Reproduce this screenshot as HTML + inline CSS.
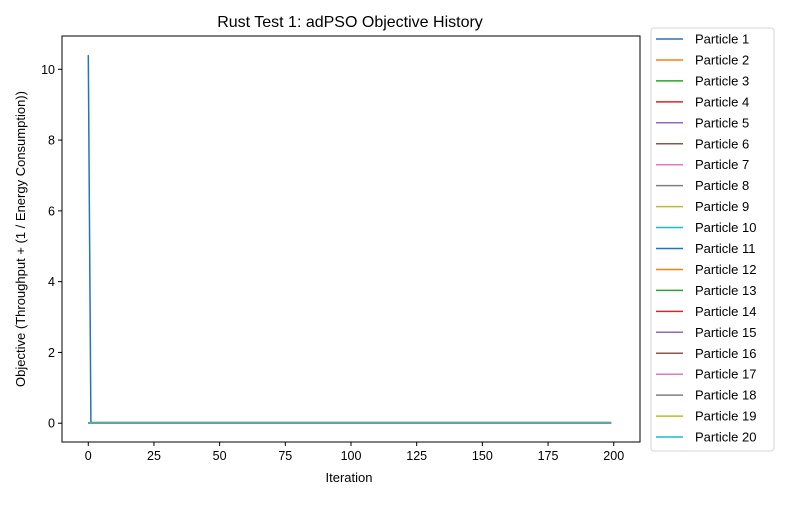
<!DOCTYPE html>
<html><head><meta charset="utf-8"><style>
body{margin:0;background:#fff;}
svg text{font-family:"Liberation Sans","DejaVu Sans",sans-serif;fill:#000;}
</style></head><body>
<svg id="chart" width="800" height="500" xmlns="http://www.w3.org/2000/svg">
<rect x="0" y="0" width="800" height="500" fill="#fff"/>
<text x="350" y="27" font-size="16" text-anchor="middle">Rust Test 1: adPSO Objective History</text>
<g id="plot"></g>
<text x="349" y="482" font-size="13" text-anchor="middle">Iteration</text>
<text transform="translate(25,239) rotate(-90)" font-size="13" text-anchor="middle">Objective (Throughput + (1 / Energy Consumption))</text>
<g id="legend"></g>
</svg>
<script>
const iterations = [0, 1, 199];
const particleNames = ["Particle 1","Particle 2","Particle 3","Particle 4","Particle 5","Particle 6","Particle 7","Particle 8","Particle 9","Particle 10","Particle 11","Particle 12","Particle 13","Particle 14","Particle 15","Particle 16","Particle 17","Particle 18","Particle 19","Particle 20"];
const particle1Values = [10.4, 0.02, 0.02];
const otherParticleValues = [0.01, 0.01, 0.01];
const xTicks = [0, 25, 50, 75, 100, 125, 150, 175, 200];
const yTicks = [0, 2, 4, 6, 8, 10];
const colors = ["#1f77b4","#ff7f0e","#2ca02c","#d62728","#9467bd","#8c564b","#e377c2","#7f7f7f","#bcbd22","#17becf"];

const NS = "http://www.w3.org/2000/svg";
const L = 62, R = 640, T = 36, B = 442;
const xMin = -10, xMax = 210, yMin = -0.53, yMax = 10.94;
const xs = v => L + (v - xMin) / (xMax - xMin) * (R - L);
const ys = v => B - (v - yMin) / (yMax - yMin) * (B - T);
function mk(tag, attrs, parent){const e=document.createElementNS(NS,tag);for(const k in attrs)e.setAttribute(k,attrs[k]);parent.appendChild(e);return e;}
const plot = document.getElementById('plot');

for (let i = 0; i < particleNames.length; i++) {
  const vals = i === 0 ? particle1Values : otherParticleValues;
  const d = iterations.map((x, j) => (j ? 'L' : 'M') + xs(x).toFixed(1) + ',' + ys(vals[j]).toFixed(1)).join(' ');
  const p = mk('path', {d: d, fill: 'none', stroke: colors[i % 10], 'stroke-width': 1.5, 'stroke-opacity': i === 0 ? 1 : 0.75}, plot);
  
  
}
const frame = mk('rect', {x: L, y: T, width: R - L, height: B - T, fill: 'none', stroke: '#000', 'stroke-width': 1}, plot);



xTicks.forEach(t => {
  const x = xs(t);
  mk('line', {x1: x, x2: x, y1: B, y2: B + 4, stroke: '#000'}, plot);
  const tx = mk('text', {x: x, y: B + 18, 'font-size': 12.5, 'text-anchor': 'middle'}, plot);
  tx.textContent = t;
  
  
});
yTicks.forEach(t => {
  const y = ys(t);
  mk('line', {x1: L - 4, x2: L, y1: y, y2: y, stroke: '#000'}, plot);
  const tx = mk('text', {x: L - 7, y: y + 4.5, 'font-size': 12.5, 'text-anchor': 'end'}, plot);
  tx.textContent = t;
  
  
});

const lg = document.getElementById('legend');
const box = mk('rect', {x: 651, y: 28, width: 123, height: 423, rx: 3, fill: '#fff', stroke: '#d6d6d6'}, lg);


particleNames.forEach((n, i) => {
  const y = 39 + i * 20.95;
  const g = mk('g', {}, lg);
  
  
  mk('line', {x1: 656, x2: 683, y1: y, y2: y, stroke: colors[i % 10], 'stroke-width': 1.5}, g);
  const tx = mk('text', {x: 695, y: y + 4.5, 'font-size': 13}, g);
  tx.textContent = n;
});
</script>
</body></html>
